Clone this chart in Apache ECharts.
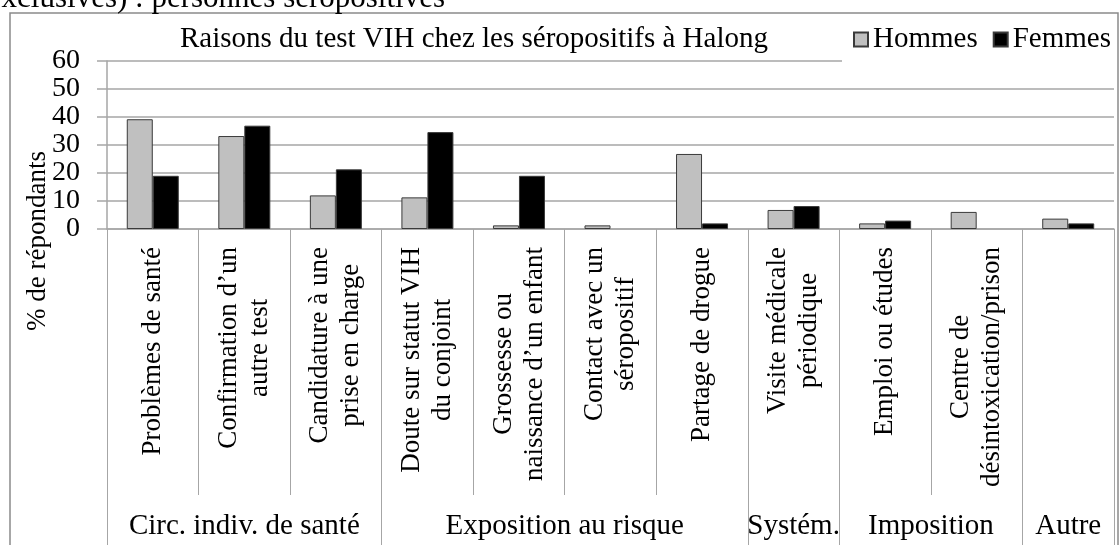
<!DOCTYPE html>
<html><head><meta charset="utf-8">
<script src="https://cdn.jsdelivr.net/npm/echarts@6/dist/echarts.min.js"></script>
<style>html,body{margin:0;padding:0;background:#fff}#c{width:1119px;height:545px}</style>
</head><body><div id="c"></div>
<script>
const categories = ['Problèmes de santé', 'Confirmation d’un\nautre test', 'Candidature à une\nprise en charge', 'Doute sur statut VIH\ndu conjoint', 'Grossesse ou\nnaissance d’un enfant', 'Contact avec un\nséropositif', 'Partage de drogue', 'Visite médicale\npériodique', 'Emploi ou études', 'Centre de\ndésintoxication/prison', ''];
const hommes = [39.2, 33.2, 12.0, 11.3, 1.3, 1.3, 26.8, 6.8, 2.0, 6.1, 3.7];
const femmes = [19.0, 36.9, 21.3, 34.6, 19.0, 0, 2.0, 8.2, 3.0, 0, 2.0];
const groups = ['Circ. indiv. de santé', 'Exposition au risque', 'Systém.', 'Imposition', 'Autre'];
const groupStart = [0, 3, 7, 8, 10];
const groupEnd = [2, 6, 7, 9, 10];
const yMin = 0, yMax = 60, yStep = 10;

const FONT = 'Liberation Serif, Times New Roman, serif';
const GRAY = '#a6a6a6';

const barData = arr => arr.map(v => v === 0 ? {value: v, itemStyle: {borderWidth: 0}} : v);

const chart = echarts.init(document.getElementById('c'));
chart.setOption({
  animation: false,
  backgroundColor: '#fff',
  title: {
    text: 'Raisons du test VIH chez les séropositifs à Halong',
    left: 180, top: 25, padding: 0,
    textStyle: {fontFamily: FONT, fontSize: 29, fontWeight: 'normal', color: '#000'}
  },
  legend: {
    data: ['Hommes', 'Femmes'],
    left: 842, top: 14,
    padding: [11, 8, 9, 11],
    backgroundColor: '#fff',
    icon: 'rect', itemWidth: 14, itemHeight: 14, itemGap: 15,
    textStyle: {fontFamily: FONT, fontSize: 29, color: '#000'}
  },
  grid: {left: 107, right: 5, top: 61, bottom: 316, containLabel: false, outerBoundsMode: 'none'},
  xAxis: [{
    type: 'category', data: categories,
    axisLine: {lineStyle: {color: GRAY, width: 1.5}},
    axisTick: {show: true, interval: 0, length: 266, lineStyle: {color: GRAY, width: 1}},
    axisLabel: {
      interval: 0, rotate: 90, margin: 18,
      formatter: v => v.split('\n').map(l => '{c|' + l + '}').join('\n'),
      rich: {c: {align: 'center', fontFamily: FONT, fontSize: 27, lineHeight: 31, color: '#000'}}
    },
    splitLine: {show: false}
  }, {
    type: 'category', data: categories, position: 'bottom',
    axisLine: {show: false},
    axisLabel: {show: false},
    splitLine: {show: false},
    axisTick: {show: true, length: 316, interval: i => groupStart.indexOf(i) >= 0, lineStyle: {color: GRAY, width: 1}}
  }],
  yAxis: {
    type: 'value', min: yMin, max: yMax, interval: yStep,
    axisLine: {show: true, lineStyle: {color: GRAY, width: 1.5}},
    axisTick: {show: true, length: 10, lineStyle: {color: GRAY, width: 1.5}},
    axisLabel: {margin: 27, fontFamily: FONT, fontSize: 28, color: '#000'},
    splitLine: {lineStyle: {color: GRAY, width: 1.5}}
  },
  series: [{
    name: 'Hommes', type: 'bar', data: barData(hommes), barWidth: 26, barGap: '0%',
    itemStyle: {color: '#c0c0c0', borderColor: '#3a3a3a', borderWidth: 1}
  }, {
    name: 'Femmes', type: 'bar', data: barData(femmes), barWidth: 26, barGap: '0%',
    itemStyle: {color: '#000', borderColor: '#3a3a3a', borderWidth: 1}
  }]
});

const cx = i => chart.convertToPixel({xAxisIndex: 0}, i);
const graphics = [
  {type: 'rect', shape: {x: 10, y: 13, width: 1108, height: 600}, style: {fill: 'none', stroke: '#8a8a8a', lineWidth: 1.5}, z: 100, silent: true},
  {type: 'text', x: 445, y: 14, style: {text: 'exclusives) : personnes séropositives', align: 'right', verticalAlign: 'bottom', fontFamily: FONT, fontSize: 31, fill: '#000'}, z: 100},
  {type: 'text', x: 38, y: 241, rotation: Math.PI / 2, style: {text: '% de répondants', align: 'center', verticalAlign: 'middle', fontFamily: FONT, fontSize: 27, fill: '#000'}, z: 100}
];
groups.forEach((g, k) => {
  const x = (cx(groupStart[k]) + cx(groupEnd[k])) / 2;
  graphics.push({type: 'text', x: x, y: 526, style: {text: g, align: 'center', verticalAlign: 'middle', fontFamily: FONT, fontSize: 29, fill: '#000'}, z: 100});
});
chart.setOption({graphic: graphics});
</script></body></html>
